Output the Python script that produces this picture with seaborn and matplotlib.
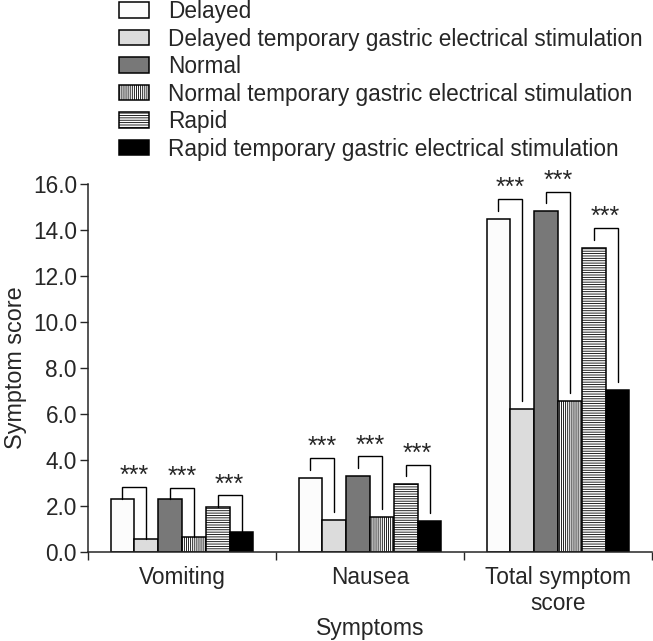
import matplotlib
matplotlib.use("Agg")
import matplotlib.pyplot as plt
import seaborn as sns
import pandas as pd

# ---- data ----
symptoms = ["Vomiting", "Nausea", "Total symptom\nscore"]
groups = [
    "Delayed",
    "Delayed temporary gastric electrical stimulation",
    "Normal",
    "Normal temporary gastric electrical stimulation",
    "Rapid",
    "Rapid temporary gastric electrical stimulation",
]
delayed = [2.32, 3.22, 14.48]
delayed_tges = [0.57, 1.37, 6.22]
normal = [2.29, 3.32, 14.81]
normal_tges = [0.65, 1.52, 6.56]
rapid = [1.96, 2.96, 13.23]
rapid_tges = [0.85, 1.36, 7.03]
# significance bracket tops: per symptom, for (Delayed, Normal, Rapid) pairs
bracket_vomiting = [2.84, 2.80, 2.46]
bracket_nausea = [4.09, 4.16, 3.80]
bracket_total = [15.36, 15.67, 14.10]
bracket_gap = [0.0, 0.35, 0.35]
sig_label = "***"
yticks = [0, 2, 4, 6, 8, 10, 12, 14, 16]

series = [delayed, delayed_tges, normal, normal_tges, rapid, rapid_tges]
rows = []
for g, vals in zip(groups, series):
    for s, v in zip(symptoms, vals):
        rows.append({"Symptoms": s, "Symptom score": v, "Group": g})
df = pd.DataFrame(rows)

# ---- style ----
sns.set_style("ticks")
plt.rcParams["font.family"] = ["Liberation Sans", "DejaVu Sans"]
plt.rcParams["hatch.linewidth"] = 0.6
FS = 16.3

colors = ["#fcfcfc", "#dcdcdc", "#787878", "#ffffff", "#ffffff", "#000000"]
hatches = [None, None, None, "|" * 8, "-" * 7, None]
palette = dict(zip(groups, colors))

fig = plt.figure(figsize=(6.53, 6.41), dpi=100)
ax = fig.add_axes([88 / 653, 1 - 552 / 641, 564 / 653, 368 / 641])

sns.barplot(data=df, x="Symptoms", y="Symptom score", hue="Group",
            hue_order=groups, order=symptoms, palette=palette, width=0.76,
            edgecolor="black", linewidth=1.1, saturation=1, errorbar=None,
            legend=False, ax=ax)

for cont, h in zip(ax.containers, hatches):
    for p in cont:
        if h:
            p.set_hatch(h)

# brackets
brackets = [bracket_vomiting, bracket_nausea, bracket_total]
for i, (tops, gap) in enumerate(zip(brackets, bracket_gap)):
    for k in range(3):
        pa = ax.containers[2 * k][i]
        pb = ax.containers[2 * k + 1][i]
        xa = pa.get_x() + pa.get_width() / 2
        xb = pb.get_x() + pb.get_width() / 2
        ya = pa.get_height() + gap
        yb = pb.get_height() + gap
        top = tops[k]
        ax.plot([xa, xa, xb, xb], [ya, top, top, yb], color="black",
                lw=1.0, solid_joinstyle="miter", clip_on=False)
        ax.annotate(sig_label, xy=((xa + xb) / 2, top), xytext=(0, 2.7),
                    textcoords="offset points", ha="center", va="baseline",
                    fontsize=18)

# axes formatting
ax.set_ylim(0, 16)
ax.set_xlim(-0.5, 2.5)
ax.set_yticks(yticks)
ax.set_yticklabels([f"{v:.1f}" for v in yticks], fontsize=FS)
ax.set_xticks(range(len(symptoms)))
ax.set_xticklabels(symptoms, fontsize=FS)
ax.set_xticks([-0.5, 0.5, 1.5, 2.5], minor=True)
ax.tick_params(axis="x", which="major", length=0, pad=10)
ax.tick_params(axis="x", which="minor", length=5.5, width=1.0, direction="out")
ax.tick_params(axis="y", length=5.5, width=1.0, pad=2.5, direction="out")
for sp in ["top", "right"]:
    ax.spines[sp].set_visible(False)
for sp in ["left", "bottom"]:
    ax.spines[sp].set_linewidth(1.1)
ax.set_ylabel("Symptom score", fontsize=16.8, labelpad=4)
ax.set_xlabel("Symptoms", fontsize=16.6, labelpad=1)

handles = [c[0] for c in ax.containers]
fig.legend(handles, groups, loc="upper left", bbox_to_anchor=(119 / 653, 1.0),
           frameon=False, fontsize=FS, handlelength=1.33, handleheight=0.67,
           handletextpad=0.82, labelspacing=0.2, borderpad=0, borderaxespad=0)

fig.savefig("out.png", dpi=100)
